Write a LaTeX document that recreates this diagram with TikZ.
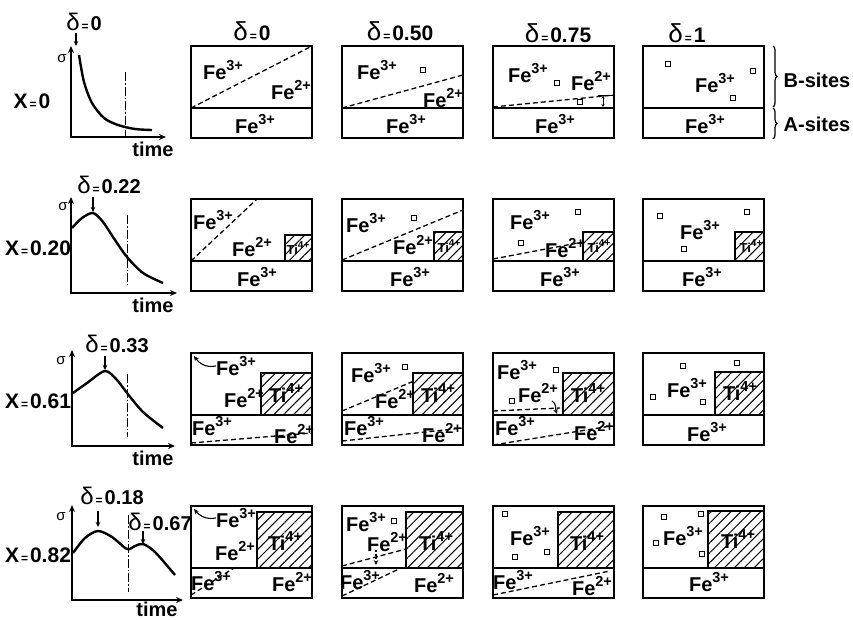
\documentclass[tikz,border=0pt]{standalone}
\usepackage{fontspec}
\setmainfont{Liberation Sans}
\usetikzlibrary{patterns.meta,decorations.pathreplacing,arrows.meta}
\newcommand{\chem}[3][14.5]{#2\raisebox{.45em}{\fontsize{#1}{#1}\selectfont #3}}
\newcommand{\seq}{{\fontsize{12}{12}\selectfont\,=\,}}
\newcommand{\dlt}[1][26]{{\fontsize{#1}{#1}\selectfont\mdseries δ}}
\begin{document}
\begin{tikzpicture}[x=1pt,y=-1pt,
 every node/.style={inner sep=0pt, font=\fontsize{20}{22}\selectfont\bfseries},
 frame/.style={line width=2.1pt},
 dsh/.style={dash pattern=on 5pt off 3pt, line width=1.3pt},
 hatch/.style={draw, line width=1.8pt, pattern={Lines[angle=45,distance=7pt,line width=1pt]}},
 sq/.style={draw, line width=1.1pt, minimum size=5.5pt, inner sep=0pt},
 axis/.style={line width=1.6pt, {Stealth[length=7pt,width=6pt]}-{Stealth[length=7pt,width=6pt]}},
 curve/.style={line width=2.4pt},
 dd/.style={line width=0.7pt, dash pattern=on 9pt off 2pt on 1.5pt off 2pt},
 arr/.style={line width=1.1pt, -{Stealth[length=5pt,width=4.5pt]}},
 small/.style={font=\fontsize{13}{14}\selectfont\bfseries},
 lbl/.style={font=\fontsize{20}{21}\selectfont\bfseries},
 hdr/.style={font=\fontsize{21}{22}\selectfont\bfseries},
 sig/.style={font=\fontsize{15}{15}\selectfont},
 ]
\useasboundingbox (0,0) rectangle (853,619);

% ---------- headers ----------
\node[hdr] (h1) at (252,31) {\dlt\seq 0};
\node[hdr] (h2) at (400,31) {\dlt\seq 0.50};
\node[hdr] (h3) at (558,33) {\dlt\seq 0.75};
\node[hdr] (h4) at (687,33) {\dlt\seq 1};

% ---------- braces ----------
\draw[line width=1.2pt, decorate, decoration={brace, amplitude=4pt}] (773,46) -- (773,107);
\draw[line width=1.2pt, decorate, decoration={brace, amplitude=4pt}] (773,108) -- (773,139);
\node (bs) at (817,80) {B-sites};
\node (as) at (817,124) {A-sites};

% ---------- graph row 1 ----------
\draw[axis] (71,46) -- (71,137) -- (166,137);
\draw[curve] plot[smooth] coordinates {(79,55) (84,82) (92,103) (104,118) (118,125) (135,129) (152,130)};
\draw[dd] (125,72) -- (125,137);
\node[sig] (s1) at (62,59) {σ};
\node[lbl] (d1) at (84,22) {\dlt[24]\seq 0};
\coordinate (p1) at (76,46);
\draw[arr] (76,33) -- (p1);
\node[font=\fontsize{21}{22}\selectfont\bfseries] (x1) at (32,101) {X\seq 0};
\node[lbl] (t1) at (153,149) {time};

% ---------- graph row 2 ----------
\draw[axis] (71,197) -- (71,293) -- (177,293);
\draw[curve] plot[smooth] coordinates {(72,228) (82,218) (93,213) (103,222) (115,240) (127,257) (143,273) (163,283)};
\draw[dd] (127,215) -- (127,285);
\node[sig] (s2) at (63,207) {σ};
\node[lbl] (d2) at (109,185) {\dlt[24]\seq 0.22};
\coordinate (p2) at (93,212);
\draw[arr] (93,197) -- (p2);
\node[font=\fontsize{21}{22}\selectfont\bfseries] (x2) at (38,248) {X\seq 0.20};
\node[lbl] (t2) at (153,305) {time};

% ---------- graph row 3 ----------
\draw[axis] (72,350) -- (72,446) -- (175,446);
\draw[curve] plot[smooth] coordinates {(73,393) (87,383) (105,371) (117,380) (127,393) (143,412) (163,428)};
\draw[dd] (127,374) -- (127,437);
\node[sig] (s3) at (61,361) {σ};
\node[lbl] (d3) at (117,344) {\dlt[24]\seq 0.33};
\coordinate (p3) at (105,370);
\draw[arr] (105,356) -- (p3);
\node[font=\fontsize{21}{22}\selectfont\bfseries] (x3) at (38,401) {X\seq 0.61};
\node[lbl] (t3) at (153,458) {time};

% ---------- graph row 4 ----------
\draw[axis] (72,505) -- (72,600) -- (183,600);
\draw[curve] plot[smooth] coordinates {(73,553) (85,538) (98,531) (112,537) (127,549) (135,546) (143,544) (155,552) (175,575)};
\draw[dd] (128,515) -- (128,592);
\node[sig] (s4) at (61,517) {σ};
\node[lbl] (d4) at (112,496) {\dlt[24]\seq 0.18};
\coordinate (p4) at (98,527);
\draw[arr] (98,511) -- (p4);
\node[lbl] (d5) at (160,522) {\dlt[24]\seq 0.67};
\coordinate (p5) at (143,544);
\draw[arr] (143,531) -- (p5);
\node[font=\fontsize{21}{22}\selectfont\bfseries] (x4) at (38,555) {X\seq 0.82};
\node[lbl] (t4) at (157,609) {time};

% ================= ROW 1 =================
\begin{scope}[shift={(191,46)}]
\draw[dsh] (0,62) -- (121,0);
\draw[frame] (0,0) rectangle (121,92); \draw[frame] (0,62) -- (121,62);
\node (r1c1a) at (32,24) {\chem{Fe}{3+}};
\node (r1c1b) at (100,44) {\chem{Fe}{2+}};
\node (r1c1c) at (64,78) {\chem{Fe}{3+}};
\end{scope}

\begin{scope}[shift={(342,46)}]
\draw[dsh] (0,62) -- (121,29);
\draw[frame] (0,0) rectangle (121,92); \draw[frame] (0,62) -- (121,62);
\node (r1c2a) at (35,24) {\chem{Fe}{3+}};
\node[sq] (r1c2s1) at (81,24) {};
\node (r1c2b) at (101,52) {\chem{Fe}{2+}};
\node (r1c2c) at (64,78) {\chem{Fe}{3+}};
\end{scope}

\begin{scope}[shift={(493,46)}]
\draw[dsh] (0,61) -- (121,49);
\draw[frame] (0,0) rectangle (121,92); \draw[frame] (0,62) -- (121,62);
\node (r1c3a) at (35,27) {\chem{Fe}{3+}};
\node[sq] (r1c3s1) at (64,37) {};
\node[sq] (r1c3s2) at (87,56) {};
\node (r1c3b) at (98,35) {\chem{Fe}{2+}};
\coordinate (r1c3p) at (110,49.5);
\coordinate (r1c3q) at (110,61);
\draw[line width=0.9pt, {Stealth[length=3pt,width=3pt]}-{Stealth[length=3pt,width=3pt]}] (r1c3p) -- (r1c3q);
\draw[line width=0.9pt] (105,49) -- (121,49);
\node (r1c3c) at (62,78) {\chem{Fe}{3+}};
\end{scope}

\begin{scope}[shift={(643,46)}]
\draw[frame] (0,0) rectangle (121,92); \draw[frame] (0,62) -- (121,62);
\node[sq] (r1c4s1) at (25,18) {};
\node[sq] (r1c4s2) at (110,25) {};
\node[sq] (r1c4s3) at (90,52) {};
\node (r1c4a) at (72,37) {\chem{Fe}{3+}};
\node (r1c4c) at (62,78) {\chem{Fe}{3+}};
\end{scope}

% ================= ROW 2 =================
\begin{scope}[shift={(191,199)}]
\draw[hatch] (94,36) rectangle (121,62);
\draw[dsh] (0,62) -- (66,0);
\draw[frame] (0,0) rectangle (121,92); \draw[frame] (0,62) -- (121,62);
\node (r2c1a) at (22,21) {\chem{Fe}{3+}};
\node (r2c1b) at (61,48) {\chem{Fe}{2+}};
\node[small] (r2c1t) at (107,49) {\chem[10]{Ti}{4+}};
\node (r2c1c) at (66,78) {\chem{Fe}{3+}};
\end{scope}

\begin{scope}[shift={(342,199)}]
\draw[hatch] (92,33) rectangle (121,62);
\draw[dsh] (0,61) -- (121,11);
\draw[frame] (0,0) rectangle (121,92); \draw[frame] (0,62) -- (121,62);
\node (r2c2a) at (24,24) {\chem{Fe}{3+}};
\node[sq] (r2c2s1) at (72,19) {};
\node (r2c2b) at (71,46) {\chem{Fe}{2+}};
\node[small] (r2c2t) at (107,47) {\chem[10]{Ti}{4+}};
\node (r2c2c) at (68,78) {\chem{Fe}{3+}};
\end{scope}

\begin{scope}[shift={(493,199)}]
\draw[hatch] (90,33) rectangle (121,62);
\draw[dsh] (0,60) -- (90,43);
\draw[frame] (0,0) rectangle (121,92); \draw[frame] (0,62) -- (121,62);
\node (r2c3a) at (37,21) {\chem{Fe}{3+}};
\node[sq] (r2c3s1) at (85,13) {};
\node[sq] (r2c3s2) at (28,44) {};
\node (r2c3b) at (72,49) {\chem{Fe}{2+}};
\node[small] (r2c3t) at (106,47) {\chem[10]{Ti}{4+}};
\node (r2c3c) at (67,78) {\chem{Fe}{3+}};
\end{scope}

\begin{scope}[shift={(643,199)}]
\draw[hatch] (92,33) rectangle (121,62);
\draw[frame] (0,0) rectangle (121,92); \draw[frame] (0,62) -- (121,62);
\node[sq] (r2c4s1) at (17,17) {};
\node[sq] (r2c4s2) at (104,13) {};
\node[sq] (r2c4s3) at (41,50) {};
\node (r2c4a) at (57,31) {\chem{Fe}{3+}};
\node[small] (r2c4t) at (108,47) {\chem[10]{Ti}{4+}};
\node (r2c4c) at (59,78) {\chem{Fe}{3+}};
\end{scope}

% ================= ROW 3 =================
\begin{scope}[shift={(191,353)}]
\draw[hatch] (70,20) rectangle (121,62);
\draw[dsh] (0,90) -- (121,80);
\draw[frame] (0,0) rectangle (121,92); \draw[frame] (0,62) -- (121,62);
\node (r3c1a) at (45,13) {\chem{Fe}{3+}};
\coordinate (r3c1k) at (3,3);
\draw[arr] (r3c1a.west) .. controls (14,15) and (8,10) .. (r3c1k);
\node (r3c1b) at (53,45) {\chem{Fe}{2+}};
\node (r3c1t) at (95,40) {\chem{Ti}{4+}};
\node (r3c1c) at (21,73) {\chem{Fe}{3+}};
\node (r3c1d) at (103,81) {\chem{Fe}{2+}};
\end{scope}

\begin{scope}[shift={(342,353)}]
\draw[hatch] (71,20) rectangle (121,62);
\draw[dsh] (0,58) -- (72,28);
\draw[dsh] (0,88) -- (121,75);
\draw[frame] (0,0) rectangle (121,92); \draw[frame] (0,62) -- (121,62);
\node (r3c2a) at (29,20) {\chem{Fe}{3+}};
\node[sq] (r3c2s1) at (63,14) {};
\node (r3c2b) at (53,46) {\chem{Fe}{2+}};
\node (r3c2t) at (96,40) {\chem{Ti}{4+}};
\node (r3c2c) at (22,73) {\chem{Fe}{3+}};
\node (r3c2d) at (100,80) {\chem{Fe}{2+}};
\end{scope}

\begin{scope}[shift={(493,353)}]
\draw[hatch] (70,20) rectangle (121,62);
\draw[dsh] (0,58) -- (67,55);
\draw[dsh] (0,92) -- (118,73);
\draw[frame] (0,0) rectangle (121,92); \draw[frame] (0,62) -- (121,62);
\node (r3c3a) at (24,17) {\chem{Fe}{3+}};
\node[sq] (r3c3s1) at (63,17) {};
\node[sq] (r3c3s2) at (19,48) {};
\node (r3c3b) at (45,40) {\chem{Fe}{2+}};
\coordinate (r3c3k) at (64,61);
\draw[arr] (59,48) .. controls (64,51) and (62,55) .. (r3c3k);
\node (r3c3t) at (95,40) {\chem{Ti}{4+}};
\node (r3c3c) at (22,73) {\chem{Fe}{3+}};
\node (r3c3d) at (101,78) {\chem{Fe}{2+}};
\end{scope}

\begin{scope}[shift={(643,353)}]
\draw[hatch] (72,19) rectangle (121,62);
\draw[frame] (0,0) rectangle (121,92); \draw[frame] (0,62) -- (121,62);
\node[sq] (r3c4s1) at (40,13) {};
\node[sq] (r3c4s2) at (94,10) {};
\node[sq] (r3c4s3) at (10,44) {};
\node[sq] (r3c4s4) at (60,49) {};
\node (r3c4a) at (44,35) {\chem{Fe}{3+}};
\node (r3c4t) at (97,38) {\chem{Ti}{4+}};
\node (r3c4c) at (64,79) {\chem{Fe}{3+}};
\end{scope}

% ================= ROW 4 =================
\begin{scope}[shift={(191,506)}]
\draw[hatch] (66,6) rectangle (121,62);
\draw[dsh] (0,89) -- (43,62);
\draw[frame] (0,0) rectangle (121,92); \draw[frame] (0,62) -- (121,62);
\node (r4c1a) at (45,12) {\chem{Fe}{3+}};
\coordinate (r4c1k) at (3,3);
\draw[arr] (r4c1a.west) .. controls (14,14) and (8,9) .. (r4c1k);
\node (r4c1b) at (44,45) {\chem{Fe}{2+}};
\node (r4c1t) at (94,35) {\chem{Ti}{4+}};
\node (r4c1c) at (20,75) {\chem{Fe}{3+}};
\node (r4c1d) at (101,76) {\chem{Fe}{2+}};
\end{scope}

\begin{scope}[shift={(342,506)}]
\draw[hatch] (64,6) rectangle (121,62);
\draw[dsh] (0,60) -- (64,43);
\draw[dsh] (0,90) -- (59,62);
\draw[frame] (0,0) rectangle (121,92); \draw[frame] (0,62) -- (121,62);
\node (r4c2a) at (24,16) {\chem{Fe}{3+}};
\node[sq] (r4c2s1) at (52,15) {};
\node (r4c2b) at (45,36) {\chem{Fe}{2+}};
\coordinate (r4c2k) at (34,59);
\draw[arr, dash pattern=on 2pt off 1.5pt] (34,44) -- (r4c2k);
\node (r4c2t) at (94,35) {\chem{Ti}{4+}};
\node (r4c2c) at (18,74) {\chem{Fe}{3+}};
\node (r4c2d) at (92,77) {\chem{Fe}{2+}};
\end{scope}

\begin{scope}[shift={(493,506)}]
\draw[hatch] (65,6) rectangle (121,62);
\draw[dsh] (0,89) -- (117,65);
\draw[frame] (0,0) rectangle (121,92); \draw[frame] (0,62) -- (121,62);
\node[sq] (r4c3s1) at (12,8) {};
\node[sq] (r4c3s2) at (22,51) {};
\node[sq] (r4c3s3) at (54,46) {};
\node (r4c3a) at (37,30) {\chem{Fe}{3+}};
\node (r4c3t) at (94,35) {\chem{Ti}{4+}};
\node (r4c3c) at (20,74) {\chem{Fe}{3+}};
\node (r4c3d) at (99,80) {\chem{Fe}{2+}};
\end{scope}

\begin{scope}[shift={(643,506)}]
\draw[hatch] (65,5) rectangle (121,62);
\draw[frame] (0,0) rectangle (121,92); \draw[frame] (0,62) -- (121,62);
\node[sq] (r4c4s1) at (21,11) {};
\node[sq] (r4c4s2) at (58,8) {};
\node[sq] (r4c4s3) at (13,37) {};
\node[sq] (r4c4s4) at (59,48) {};
\node (r4c4a) at (40,30) {\chem{Fe}{3+}};
\node (r4c4t) at (95,33) {\chem{Ti}{4+}};
\node (r4c4c) at (66,76) {\chem{Fe}{3+}};
\end{scope}
\end{tikzpicture}
\end{document}
